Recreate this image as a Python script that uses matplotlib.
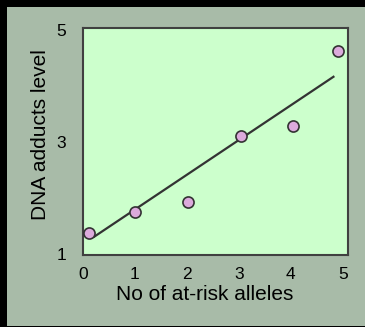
import matplotlib.pyplot as plt
from matplotlib.patches import Rectangle

# datos
alelos = [0.12, 1.01, 2.03, 3.05, 4.04, 4.91]
aductos = [1.39, 1.76, 1.94, 3.11, 3.29, 4.63]
# recta de tendencia (extremos)
recta_x = [0.22, 4.82]
recta_y = [1.32, 4.17]
xticks = [0, 1, 2, 3, 4, 5]
yticks = [1, 3, 5]

plt.rcParams['font.family'] = ['Liberation Sans', 'DejaVu Sans']

fig = plt.figure(figsize=(3.65, 3.27), dpi=100, facecolor='black')
# fondo gris verdoso
fondo = Rectangle((7 / 365, 0.6 / 327), 1, 1 - 7.6 / 327,
                  transform=fig.transFigure, facecolor='#a8bba8',
                  edgecolor='none', zorder=-10)
fig.add_artist(fondo)

ax = fig.add_axes([83 / 365, 1 - 254.5 / 327, 265 / 365, 226.5 / 327])
ax.set_zorder(1)
ax.set_facecolor('#ccffcc')
ax.plot(recta_x, recta_y, color='#333333', linewidth=1.6, zorder=2)
ax.plot(alelos, aductos, 'o', markersize=8, markerfacecolor='#dcaadc',
        markeredgecolor='#333333', markeredgewidth=1.2, zorder=3)

ax.set_xlim(0, 5.1)
ax.set_ylim(1, 5.04)
ax.set_xticks(xticks)
ax.set_yticks(yticks)
ax.tick_params(length=0, labelsize=12.5, colors='black')
ax.tick_params(axis='x', pad=9)
ax.tick_params(axis='y', pad=12)
for s in ax.spines.values():
    s.set_color('#404040')
    s.set_linewidth(1.5)

ax.set_xlabel("No of at-risk alleles", fontsize=15)
ax.set_ylabel("DNA adducts level", fontsize=15)
ax.xaxis.set_label_coords(0.46, -0.135)
ax.yaxis.set_label_coords(-0.125, 0.53)

fig.savefig("out.png", dpi=100, facecolor=fig.get_facecolor())
